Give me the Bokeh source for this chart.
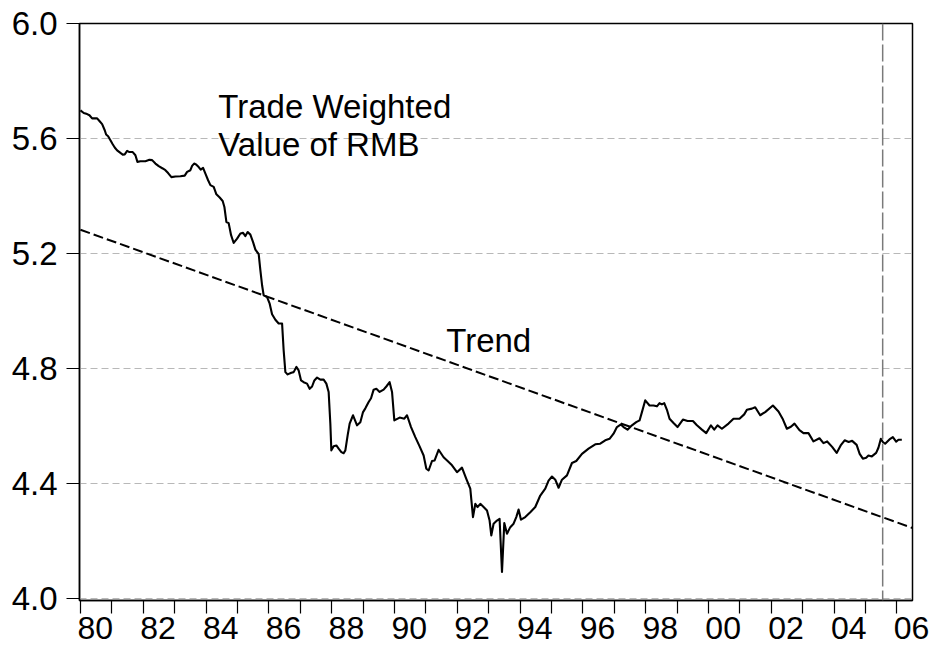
from bokeh.plotting import figure
from bokeh.models import FixedTicker, Span, Range1d
from bokeh.embed import file_html
from bokeh.resources import INLINE
from bokeh.core.properties import value

# ---- data ----
dates = [
    1980.000, 1980.105, 1980.213, 1980.287, 1980.372, 1980.532, 1980.605, 1980.691, 1980.774, 1980.818,
    1980.882, 1980.955, 1981.028, 1981.092, 1981.168, 1981.273, 1981.347, 1981.410, 1981.487, 1981.560,
    1981.665, 1981.751, 1981.815, 1981.910, 1982.069, 1982.197, 1982.283, 1982.388, 1982.493, 1982.620,
    1982.706, 1982.792, 1982.897, 1983.025, 1983.184, 1983.321, 1983.397, 1983.502, 1983.556, 1983.620,
    1983.684, 1983.766, 1983.830, 1983.906, 1983.980, 1984.066, 1984.139, 1984.244, 1984.330, 1984.435,
    1984.530, 1984.585, 1984.648, 1984.721, 1984.798, 1984.881, 1984.989, 1985.094, 1985.180, 1985.253,
    1985.326, 1985.412, 1985.498, 1985.572, 1985.677, 1985.731, 1985.785, 1985.836, 1985.944, 1986.027,
    1986.103, 1986.208, 1986.313, 1986.422, 1986.472, 1986.527, 1986.600, 1986.718, 1986.791, 1986.877,
    1986.950, 1987.026, 1987.109, 1987.217, 1987.300, 1987.377, 1987.450, 1987.536, 1987.641, 1987.746,
    1987.832, 1987.905, 1987.959, 1987.991, 1988.064, 1988.150, 1988.224, 1988.310, 1988.383, 1988.437,
    1988.510, 1988.574, 1988.682, 1988.809, 1988.914, 1989.000, 1989.074, 1989.179, 1989.255, 1989.338,
    1989.424, 1989.529, 1989.656, 1989.742, 1989.847, 1989.924, 1989.997, 1990.166, 1990.315, 1990.401,
    1990.529, 1990.665, 1990.802, 1990.930, 1991.016, 1991.089, 1991.197, 1991.280, 1991.407, 1991.566,
    1991.694, 1991.834, 1991.993, 1992.152, 1992.289, 1992.416, 1992.502, 1992.576, 1992.649, 1992.735,
    1992.840, 1992.948, 1993.031, 1993.085, 1993.158, 1993.266, 1993.349, 1993.426, 1993.499, 1993.585,
    1993.690, 1993.795, 1993.881, 1993.954, 1994.031, 1994.167, 1994.327, 1994.486, 1994.645, 1994.804,
    1994.909, 1995.018, 1995.123, 1995.228, 1995.336, 1995.495, 1995.654, 1995.791, 1995.973, 1996.183,
    1996.396, 1996.555, 1996.714, 1996.851, 1996.979, 1997.087, 1997.214, 1997.297, 1997.424, 1997.565,
    1997.701, 1997.807, 1997.883, 1997.988, 1998.125, 1998.252, 1998.360, 1998.443, 1998.520, 1998.593,
    1998.679, 1998.762, 1998.889, 1999.016, 1999.188, 1999.335, 1999.507, 1999.634, 1999.793, 1999.930,
    2000.080, 2000.185, 2000.290, 2000.430, 2000.640, 2000.799, 2000.990, 2001.140, 2001.226, 2001.385,
    2001.490, 2001.649, 2001.808, 2002.054, 2002.232, 2002.372, 2002.499, 2002.627, 2002.741, 2002.900,
    2003.028, 2003.187, 2003.346, 2003.537, 2003.664, 2003.782, 2003.941, 2004.085, 2004.212, 2004.339,
    2004.467, 2004.578, 2004.721, 2004.817, 2004.919, 2005.024, 2005.097, 2005.205, 2005.342, 2005.415,
    2005.492, 2005.556, 2005.629, 2005.766, 2005.874, 2005.979, 2006.052, 2006.160,
]

rmb_value = [
    5.698, 5.689, 5.685, 5.681, 5.670, 5.670, 5.661, 5.650, 5.629, 5.614,
    5.608, 5.594, 5.580, 5.569, 5.559, 5.550, 5.544, 5.545, 5.557, 5.553,
    5.553, 5.542, 5.519, 5.521, 5.521, 5.526, 5.525, 5.513, 5.504, 5.496,
    5.490, 5.480, 5.466, 5.468, 5.469, 5.471, 5.484, 5.490, 5.505, 5.513,
    5.510, 5.501, 5.492, 5.498, 5.478, 5.455, 5.438, 5.432, 5.406, 5.395,
    5.383, 5.362, 5.310, 5.306, 5.264, 5.237, 5.252, 5.270, 5.272, 5.261,
    5.275, 5.266, 5.240, 5.214, 5.198, 5.142, 5.090, 5.055, 5.049, 5.026,
    4.989, 4.970, 4.957, 4.957, 4.864, 4.788, 4.780, 4.786, 4.788, 4.806,
    4.794, 4.759, 4.753, 4.748, 4.730, 4.738, 4.759, 4.769, 4.762, 4.762,
    4.748, 4.719, 4.609, 4.516, 4.530, 4.533, 4.522, 4.510, 4.506, 4.516,
    4.568, 4.609, 4.638, 4.603, 4.614, 4.649, 4.662, 4.684, 4.697, 4.727,
    4.730, 4.719, 4.727, 4.738, 4.753, 4.719, 4.620, 4.630, 4.626, 4.638,
    4.597, 4.562, 4.530, 4.498, 4.452, 4.446, 4.479, 4.481, 4.518, 4.492,
    4.479, 4.464, 4.440, 4.456, 4.417, 4.383, 4.284, 4.330, 4.319, 4.330,
    4.319, 4.307, 4.272, 4.220, 4.261, 4.272, 4.278, 4.093, 4.263, 4.226,
    4.249, 4.261, 4.284, 4.310, 4.275, 4.284, 4.301, 4.319, 4.359, 4.383,
    4.411, 4.425, 4.414, 4.386, 4.414, 4.429, 4.472, 4.479, 4.504, 4.522,
    4.537, 4.539, 4.551, 4.556, 4.574, 4.597, 4.606, 4.597, 4.588, 4.603,
    4.614, 4.620, 4.649, 4.690, 4.672, 4.672, 4.669, 4.680, 4.676, 4.680,
    4.657, 4.626, 4.611, 4.597, 4.623, 4.618, 4.618, 4.603, 4.588, 4.576,
    4.603, 4.588, 4.603, 4.591, 4.609, 4.626, 4.626, 4.641, 4.657, 4.661,
    4.666, 4.638, 4.649, 4.672, 4.651, 4.624, 4.591, 4.598, 4.609, 4.586,
    4.576, 4.576, 4.547, 4.558, 4.541, 4.547, 4.528, 4.507, 4.533, 4.551,
    4.545, 4.549, 4.535, 4.504, 4.487, 4.490, 4.498, 4.495, 4.507, 4.525,
    4.556, 4.545, 4.539, 4.554, 4.562, 4.546, 4.553, 4.553,
]

trend_dates = [1980.0, 2006.5]
trend_value = [5.283, 4.246]

break_date = 2005.55  # July 2005 revaluation

# year labels sit in the middle of their year; tick marks at each year start
x_label_pos = [1980.47, 1982.47, 1984.47, 1986.47, 1988.47, 1990.47, 1992.47,
               1994.47, 1996.47, 1998.47, 2000.47, 2002.47, 2004.47, 2006.47]
x_tick_labels = ["80", "82", "84", "86", "88", "90", "92", "94", "96", "98", "00", "02", "04", "06"]
x_year_ticks = list(range(1980, 2007))
y_ticks = [4.0, 4.4, 4.8, 5.2, 5.6, 6.0]
y_tick_labels = ["4.0", "4.4", "4.8", "5.2", "5.6", "6.0"]

label_rmb_line1 = ("Trade Weighted", 1984.39, 5.713)
label_rmb_line2 = ("Value of RMB", 1984.39, 5.580)
label_trend = ("Trend", 1991.65, 4.899)

FONT = "Liberation Sans"

# ---- figure ----
p = figure(width=934, height=652, output_backend="svg", toolbar_location=None,
           x_range=Range1d(1979.97, 2006.5), y_range=Range1d(3.994, 6.0),
           min_border_left=79, min_border_right=22, min_border_top=23, min_border_bottom=52,
           background_fill_color="white", border_fill_color="white")

p.outline_line_color = "black"
p.outline_line_width = 1.5
p.outline_line_alpha = 1.0

p.xgrid.visible = False
p.ygrid.grid_line_color = "#b8b8b8"
p.ygrid.grid_line_dash = "7 4"
p.ygrid.grid_line_width = 1

# x axis: invisible major ticks carry the labels, minor ticks mark year starts
p.xaxis.ticker = FixedTicker(ticks=x_label_pos, minor_ticks=x_year_ticks)
p.xaxis.major_label_overrides = {t: l for t, l in zip(x_label_pos, x_tick_labels)}
p.xaxis.major_tick_in = 0
p.xaxis.major_tick_out = 13
p.xaxis.major_tick_line_color = None
p.xaxis.minor_tick_in = 0
p.xaxis.minor_tick_out = 13
p.xaxis.minor_tick_line_color = "black"
p.xaxis.minor_tick_line_width = 1.2
p.xaxis.major_label_standoff = 3
p.xaxis.major_label_text_font = FONT
p.xaxis.major_label_text_font_size = "32px"
p.xaxis.major_label_text_color = "black"
p.xaxis.axis_line_width = 1.5

# y axis
p.yaxis.ticker = FixedTicker(ticks=y_ticks)
p.yaxis.major_label_overrides = {t: l for t, l in zip(y_ticks, y_tick_labels)}
p.yaxis.major_tick_in = 0
p.yaxis.major_tick_out = 13
p.yaxis.minor_tick_line_color = None
p.yaxis.major_tick_line_width = 1.2
p.yaxis.major_label_standoff = 9
p.yaxis.major_label_text_font = FONT
p.yaxis.major_label_text_font_size = "33px"
p.yaxis.major_label_text_color = "black"
p.yaxis.axis_line_width = 1.5

# vertical break line
p.add_layout(Span(location=break_date, dimension="height", line_color="#7a7a7a",
                  line_dash="17 4", line_width=1.5))

# trend
p.line(trend_dates, trend_value, line_color="black", line_width=2.0, line_dash="10 4")

# series
p.line(dates, rmb_value, line_color="black", line_width=2.1, line_join="round")

# annotations
for txt, x, y in (label_rmb_line1, label_rmb_line2, label_trend):
    p.text(x=[x], y=[y], text=[txt], text_font=value(FONT), text_font_size="33px",
           text_color="black", text_baseline="alphabetic", text_align="left")

open("out.html", "w").write(file_html(p, INLINE))
